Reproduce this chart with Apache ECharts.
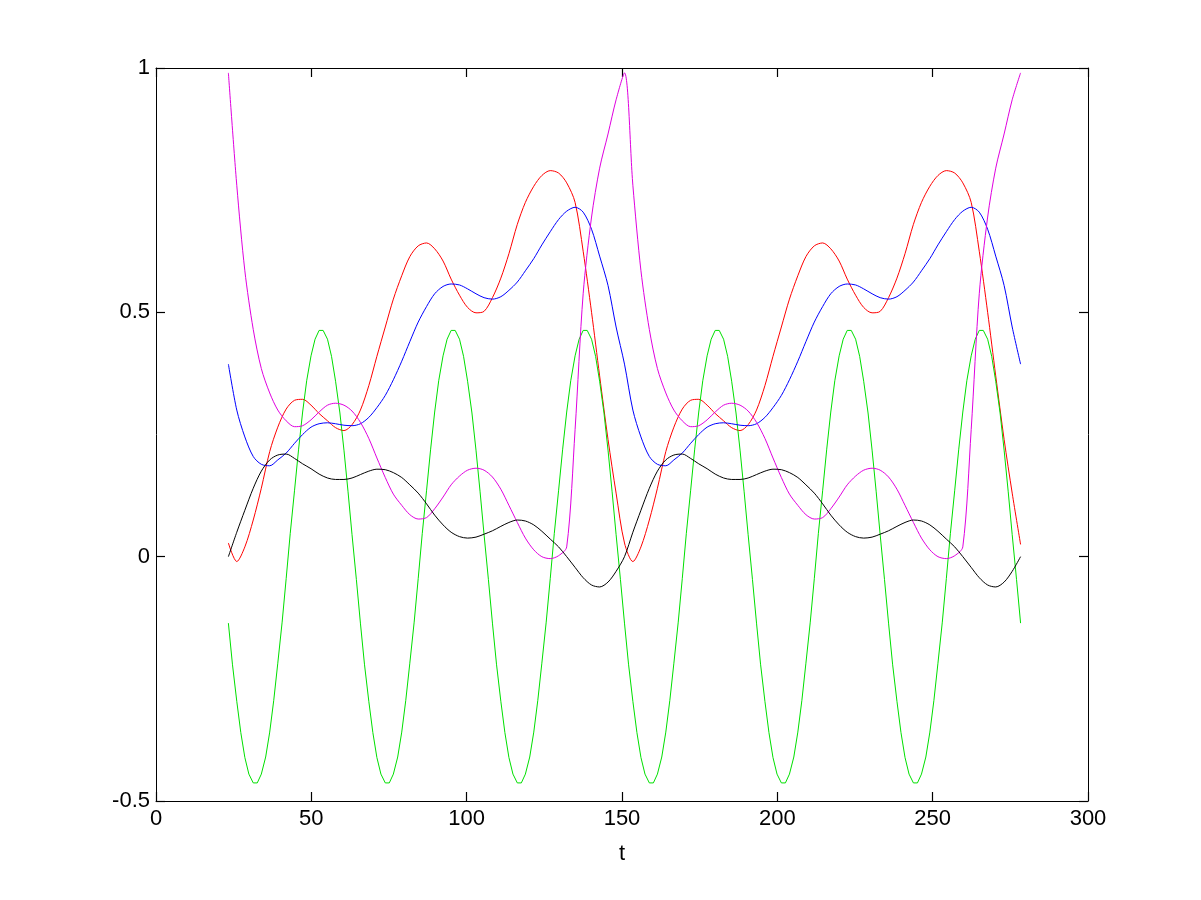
<!DOCTYPE html>
<html>
<head>
<meta charset="utf-8">
<title>t plot</title>
<script src="https://cdn.jsdelivr.net/npm/echarts@6/dist/echarts.min.js"></script>
<style>
  html, body { margin: 0; padding: 0; background: #fff; }
  #chart { width: 1201px; height: 900px; }
</style>
</head>
<body>
<div id="chart"></div>
<script>
// sample positions along t (red, blue, magenta, black)
const tValues = [
  23.3, 26.0, 28.6, 31.3, 33.9, 36.6, 39.2, 41.9, 44.6, 47.2, 49.9, 52.5, 55.2, 57.8, 60.5, 63.1,
  65.8, 68.5, 71.1, 73.8, 76.4, 79.1, 81.7, 84.4, 87.1, 89.7, 92.4, 95.0, 97.7, 100.3, 103.0, 105.6,
  108.3, 111.0, 113.6, 116.3, 118.9, 121.6, 124.2, 126.9, 129.6, 132.2, 134.9, 137.5, 140.2, 142.8, 145.5, 148.1,
  150.8, 153.5, 156.1, 158.8, 161.4, 164.1, 166.7, 169.4, 172.1, 174.7, 177.4, 180.0, 182.7, 185.3, 188.0, 190.6,
  193.3, 196.0, 198.6, 201.3, 203.9, 206.6, 209.2, 211.9, 214.6, 217.2, 219.9, 222.5, 225.2, 227.8, 230.5, 233.1,
  235.8, 238.5, 241.1, 243.8, 246.4, 249.1, 251.7, 254.4, 257.1, 259.7, 262.4, 265.0, 267.7, 270.3, 273.0, 275.6,
  278.3
];

// finer positions for the fast green wave
const tGreen = [
  23.3, 24.6, 26.0, 27.3, 28.6, 29.9, 31.3, 32.6, 33.9, 35.3, 36.6, 37.9, 39.2, 40.6, 41.9, 43.2,
  44.6, 45.9, 47.2, 48.5, 49.9, 51.2, 52.5, 53.8, 55.2, 56.5, 57.8, 59.2, 60.5, 61.8, 63.1, 64.5,
  65.8, 67.1, 68.5, 69.8, 71.1, 72.4, 73.8, 75.1, 76.4, 77.8, 79.1, 80.4, 81.7, 83.1, 84.4, 85.7,
  87.1, 88.4, 89.7, 91.0, 92.4, 93.7, 95.0, 96.3, 97.7, 99.0, 100.3, 101.7, 103.0, 104.3, 105.6, 107.0,
  108.3, 109.6, 111.0, 112.3, 113.6, 114.9, 116.3, 117.6, 118.9, 120.3, 121.6, 122.9, 124.2, 125.6, 126.9, 128.2,
  129.6, 130.9, 132.2, 133.5, 134.9, 136.2, 137.5, 138.8, 140.2, 141.5, 142.8, 144.2, 145.5, 146.8, 148.1, 149.5,
  150.8, 152.1, 153.5, 154.8, 156.1, 157.4, 158.8, 160.1, 161.4, 162.8, 164.1, 165.4, 166.7, 168.1, 169.4, 170.7,
  172.1, 173.4, 174.7, 176.0, 177.4, 178.7, 180.0, 181.3, 182.7, 184.0, 185.3, 186.7, 188.0, 189.3, 190.6, 192.0,
  193.3, 194.6, 196.0, 197.3, 198.6, 199.9, 201.3, 202.6, 203.9, 205.3, 206.6, 207.9, 209.2, 210.6, 211.9, 213.2,
  214.6, 215.9, 217.2, 218.5, 219.9, 221.2, 222.5, 223.8, 225.2, 226.5, 227.8, 229.2, 230.5, 231.8, 233.1, 234.5,
  235.8, 237.1, 238.5, 239.8, 241.1, 242.4, 243.8, 245.1, 246.4, 247.8, 249.1, 250.4, 251.7, 253.1, 254.4, 255.7,
  257.1, 258.4, 259.7, 261.0, 262.4, 263.7, 265.0, 266.3, 267.7, 269.0, 270.3, 271.7, 273.0, 274.3, 275.6, 277.0,
  278.3
];

const redValues = [
  0.028, -0.010, 0.020, 0.075, 0.140, 0.215, 0.265, 0.302, 0.320, 0.322, 0.310, 0.293, 0.278, 0.264, 0.258, 0.270,
  0.300, 0.350, 0.410, 0.470, 0.527, 0.575, 0.614, 0.636, 0.642, 0.630, 0.605, 0.568, 0.535, 0.510, 0.499, 0.502,
  0.530, 0.570, 0.620, 0.680, 0.725, 0.758, 0.780, 0.790, 0.785, 0.765, 0.725, 0.625, 0.500, 0.370, 0.240, 0.130,
  0.028, -0.010, 0.020, 0.075, 0.140, 0.215, 0.265, 0.302, 0.320, 0.322, 0.310, 0.293, 0.278, 0.264, 0.258, 0.270,
  0.300, 0.350, 0.410, 0.470, 0.527, 0.575, 0.614, 0.636, 0.642, 0.630, 0.605, 0.568, 0.535, 0.510, 0.499, 0.502,
  0.530, 0.570, 0.620, 0.680, 0.725, 0.758, 0.780, 0.790, 0.785, 0.765, 0.725, 0.625, 0.500, 0.370, 0.240, 0.130,
  0.025
];

const greenValues = [
  -0.136, -0.220, -0.296, -0.360, -0.411, -0.445, -0.463, -0.463, -0.445, -0.410, -0.359, -0.294, -0.218, -0.134, -0.045, 0.047,
  0.136, 0.220, 0.296, 0.360, 0.411, 0.445, 0.463, 0.463, 0.445, 0.410, 0.359, 0.294, 0.218, 0.134, 0.045, -0.047,
  -0.136, -0.220, -0.296, -0.360, -0.411, -0.445, -0.463, -0.463, -0.445, -0.410, -0.359, -0.294, -0.218, -0.134, -0.045, 0.047,
  0.136, 0.220, 0.296, 0.360, 0.411, 0.445, 0.463, 0.463, 0.445, 0.410, 0.359, 0.294, 0.218, 0.134, 0.045, -0.047,
  -0.136, -0.220, -0.296, -0.360, -0.411, -0.445, -0.463, -0.463, -0.445, -0.410, -0.359, -0.294, -0.218, -0.134, -0.045, 0.047,
  0.136, 0.220, 0.296, 0.360, 0.411, 0.445, 0.463, 0.463, 0.445, 0.410, 0.359, 0.294, 0.218, 0.134, 0.045, -0.047,
  -0.136, -0.220, -0.296, -0.360, -0.411, -0.445, -0.463, -0.463, -0.445, -0.410, -0.359, -0.294, -0.218, -0.134, -0.045, 0.047,
  0.136, 0.220, 0.296, 0.360, 0.411, 0.445, 0.463, 0.463, 0.445, 0.410, 0.359, 0.294, 0.218, 0.134, 0.045, -0.047,
  -0.136, -0.220, -0.296, -0.360, -0.411, -0.445, -0.463, -0.463, -0.445, -0.410, -0.359, -0.294, -0.218, -0.134, -0.045, 0.047,
  0.136, 0.220, 0.296, 0.360, 0.411, 0.445, 0.463, 0.463, 0.445, 0.410, 0.359, 0.294, 0.218, 0.134, 0.045, -0.047,
  -0.136, -0.220, -0.296, -0.360, -0.411, -0.445, -0.463, -0.463, -0.445, -0.410, -0.359, -0.294, -0.218, -0.134, -0.045, 0.047,
  0.136, 0.220, 0.296, 0.360, 0.411, 0.445, 0.463, 0.463, 0.445, 0.410, 0.359, 0.294, 0.218, 0.134, 0.045, -0.047,
  -0.136
];

const blueValues = [
  0.394, 0.300, 0.245, 0.205, 0.189, 0.186, 0.198, 0.212, 0.232, 0.250, 0.265, 0.272, 0.274, 0.272, 0.269, 0.268,
  0.272, 0.285, 0.305, 0.330, 0.362, 0.400, 0.440, 0.480, 0.512, 0.538, 0.553, 0.558, 0.556, 0.548, 0.538, 0.530,
  0.527, 0.532, 0.545, 0.562, 0.585, 0.610, 0.638, 0.665, 0.690, 0.707, 0.715, 0.705, 0.670, 0.615, 0.555, 0.470,
  0.394, 0.300, 0.245, 0.205, 0.189, 0.186, 0.198, 0.212, 0.232, 0.250, 0.265, 0.272, 0.274, 0.272, 0.269, 0.268,
  0.272, 0.285, 0.305, 0.330, 0.362, 0.400, 0.440, 0.480, 0.512, 0.538, 0.553, 0.558, 0.556, 0.548, 0.538, 0.530,
  0.527, 0.532, 0.545, 0.562, 0.585, 0.610, 0.638, 0.665, 0.690, 0.707, 0.715, 0.705, 0.670, 0.615, 0.555, 0.470,
  0.394
];

const magentaValues = [
  0.990, 0.760, 0.585, 0.465, 0.385, 0.335, 0.300, 0.278, 0.266, 0.268, 0.280, 0.296, 0.310, 0.314, 0.310, 0.298,
  0.275, 0.242, 0.202, 0.162, 0.128, 0.105, 0.086, 0.077, 0.080, 0.098, 0.122, 0.147, 0.165, 0.177, 0.181, 0.177,
  0.163, 0.138, 0.105, 0.070, 0.038, 0.014, 0.000, -0.004, 0.002, 0.020, 0.260, 0.538, 0.695, 0.795, 0.865, 0.935,
  0.990, 0.760, 0.585, 0.465, 0.385, 0.335, 0.300, 0.278, 0.266, 0.268, 0.280, 0.296, 0.310, 0.314, 0.310, 0.298,
  0.275, 0.242, 0.202, 0.162, 0.128, 0.105, 0.086, 0.077, 0.080, 0.098, 0.122, 0.147, 0.165, 0.177, 0.181, 0.177,
  0.163, 0.138, 0.105, 0.070, 0.038, 0.014, 0.000, -0.004, 0.002, 0.020, 0.260, 0.538, 0.695, 0.795, 0.865, 0.935,
  0.990
];

const blackValues = [
  0.000, 0.050, 0.095, 0.140, 0.175, 0.198, 0.208, 0.210, 0.201, 0.190, 0.180, 0.169, 0.161, 0.158, 0.158, 0.161,
  0.168, 0.175, 0.179, 0.178, 0.172, 0.162, 0.147, 0.130, 0.108, 0.085, 0.065, 0.050, 0.041, 0.038, 0.040, 0.046,
  0.053, 0.062, 0.070, 0.075, 0.073, 0.065, 0.052, 0.036, 0.020, 0.000, -0.022, -0.043, -0.058, -0.062, -0.052, -0.030,
  0.000, 0.050, 0.095, 0.140, 0.175, 0.198, 0.208, 0.210, 0.201, 0.190, 0.180, 0.169, 0.161, 0.158, 0.158, 0.161,
  0.168, 0.175, 0.179, 0.178, 0.172, 0.162, 0.147, 0.130, 0.108, 0.085, 0.065, 0.050, 0.041, 0.038, 0.040, 0.046,
  0.053, 0.062, 0.070, 0.075, 0.073, 0.065, 0.052, 0.036, 0.020, 0.000, -0.022, -0.043, -0.058, -0.062, -0.052, -0.030,
  0.000
];

const xTicks = { min: 0, max: 300, interval: 50 };
const yTicks = { min: -0.5, max: 1, interval: 0.5 };

const font = 'Liberation Sans, Arial, Helvetica, sans-serif';

function pairs(ts, values) {
  return ts.map((t, i) => [t, values[i]]);
}

function lineSeries(name, ts, values, color, smooth) {
  return {
    name: name,
    type: 'line',
    data: pairs(ts, values),
    showSymbol: false,
    smooth: smooth,
    lineStyle: { color: color, width: 1 },
    itemStyle: { color: color }
  };
}

// frame lines on all four sides, ticks pointing in
function frameAxis(position, range, withLabels) {
  const axis = {
    type: 'value',
    position: position,
    min: range.min, max: range.max, interval: range.interval,
    axisLine: { show: true, onZero: false, lineStyle: { color: '#000', width: 1 } },
    axisTick: { show: true, inside: true, length: 9, lineStyle: { color: '#000', width: 1.2 } },
    splitLine: { show: false },
    axisLabel: { show: false }
  };
  if (withLabels) {
    axis.axisLabel = { show: true, color: '#000', fontFamily: font, fontSize: 22, margin: position === 'left' ? 6 : 7 };
  }
  return axis;
}

const bottomAxis = frameAxis('bottom', xTicks, true);
bottomAxis.name = 't';
bottomAxis.nameLocation = 'middle';
bottomAxis.nameGap = 42;
bottomAxis.nameTextStyle = { color: '#000', fontFamily: font, fontSize: 22 };

const chart = echarts.init(document.getElementById('chart'), null, { renderer: 'canvas' });
chart.setOption({
  animation: false,
  backgroundColor: '#fff',
  grid: { left: 156, right: 113, top: 68, bottom: 99 },
  xAxis: [bottomAxis, frameAxis('top', xTicks, false)],
  yAxis: [frameAxis('left', yTicks, true), frameAxis('right', yTicks, false)],
  series: [
    lineSeries('red', tValues, redValues, '#ff0000', 0.3),
    lineSeries('green', tGreen, greenValues, '#00e000', false),
    lineSeries('blue', tValues, blueValues, '#0000ff', 0.3),
    lineSeries('magenta', tValues, magentaValues, '#e000e0', 0.3),
    lineSeries('black', tValues, blackValues, '#000000', 0.3)
  ]
});
</script>
</body>
</html>
